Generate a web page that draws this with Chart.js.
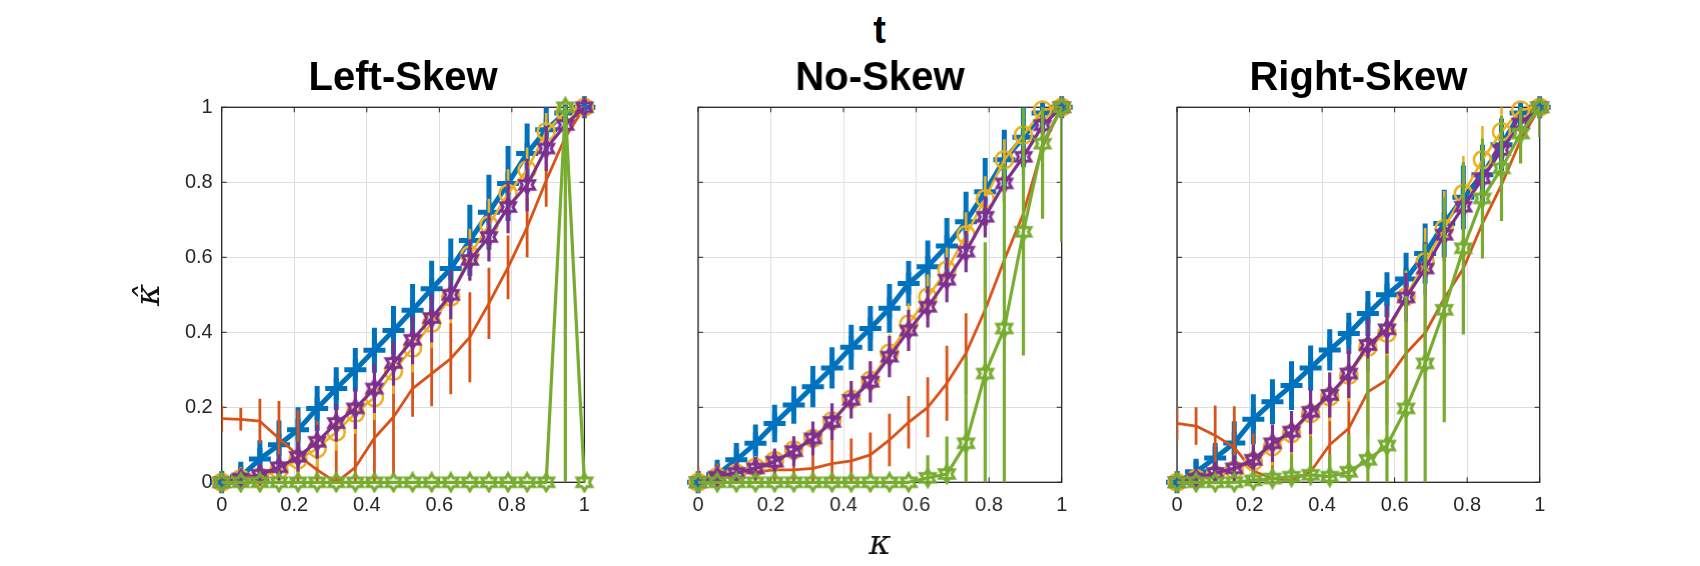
<!DOCTYPE html>
<html>
<head>
<meta charset="utf-8">
<script src="https://cdn.jsdelivr.net/npm/chart.js@4.4.0/dist/chart.umd.min.js"></script>
<style>
  html, body { margin: 0; padding: 0; background: #fff; }
  body { width: 1700px; height: 566px; position: relative; overflow: hidden; }
  .panel { position: absolute; top: 0; height: 566px; }
  #suptitle {
    position: absolute; left: 779.7px; top: 10.8px; width: 200px; text-align: center;
    font: bold 38px/38px "Liberation Sans", Arial, sans-serif; color: #000;
  }
</style>
</head>
<body>
<div id="suptitle">t</div>
<div class="panel" style="left:100px;width:504.4px"><canvas id="left"></canvas></div>
<div class="panel" style="left:658.3px;width:422.7px"><canvas id="mid"></canvas></div>
<div class="panel" style="left:1136.8px;width:422.7px"><canvas id="right"></canvas></div>
<script>
// x positions (kappa), shared by every panel
const kappa = [0, 0.0526, 0.1053, 0.1579, 0.2105, 0.2632, 0.3158, 0.3684, 0.4211, 0.4737,
               0.5263, 0.5789, 0.6316, 0.6842, 0.7368, 0.7895, 0.8421, 0.8947, 0.9474, 1];

const tickValues = [0, 0.2, 0.4, 0.6, 0.8, 1];
const tickLabels = ['0', '0.2', '0.4', '0.6', '0.8', '1'];
const panelTitles = ['Left-Skew', 'No-Skew', 'Right-Skew'];

// Left-Skew
const leftBlue = [0, 0.015, 0.062, 0.1, 0.14, 0.197, 0.25, 0.3, 0.352, 0.405, 0.459, 0.516, 0.57, 0.645, 0.72, 0.797, 0.877, 0.94, 0.985, 1];
const leftBlueErr = [0.03, 0.04, 0.05, 0.065, 0.06, 0.06, 0.057, 0.058, 0.06, 0.065, 0.07, 0.075, 0.08, 0.095, 0.1, 0.1, 0.08, 0.06, 0.03, 0.02];
const leftRed = [0.17, 0.168, 0.163, 0.117, 0.072, 0.033, 0, 0.04, 0.118, 0.174, 0.25, 0.29, 0.33, 0.387, 0.477, 0.573, 0.68, 0.805, 0.92, 1];
const leftRedErr = [0.035, 0.03, 0.06, 0.1, 0.12, 0.13, 0.1, 0.12, 0.14, 0.16, 0.075, 0.087, 0.095, 0.12, 0.095, 0.085, 0.08, 0.07, 0.05, 0.02];
const leftYellow = [0, 0.01, 0.014, 0.033, 0.06, 0.09, 0.134, 0.184, 0.226, 0.296, 0.358, 0.424, 0.494, 0.606, 0.686, 0.77, 0.833, 0.935, 0.988, 1];
const leftYellowErr = [0.02, 0.03, 0.035, 0.04, 0.045, 0.05, 0.05, 0.055, 0.06, 0.06, 0.065, 0.065, 0.07, 0.07, 0.07, 0.065, 0.06, 0.05, 0.03, 0.01];
const leftPurple = [0, 0.01, 0.02, 0.04, 0.068, 0.108, 0.158, 0.197, 0.25, 0.318, 0.38, 0.438, 0.5, 0.593, 0.654, 0.734, 0.793, 0.89, 0.953, 1];
const leftPurpleErr = [0.01, 0.02, 0.03, 0.035, 0.04, 0.045, 0.05, 0.055, 0.065, 0.06, 0.065, 0.065, 0.065, 0.055, 0.065, 0.07, 0.07, 0.06, 0.04, 0.01];
const leftGreen = [0, 0, 0, 0, 0, 0, 0, 0, 0, 0, 0, 0, 0, 0, 0, 0, 0, 0, 1, 0];
const leftGreenErr = [0, 0, 0, 0, 0, 0, 0, 0, 0, 0, 0, 0, 0, 0, 0, 0, 0, 0, 1, 0];

// No-Skew
const midBlue = [0, 0.02, 0.06, 0.104, 0.157, 0.206, 0.255, 0.305, 0.36, 0.41, 0.464, 0.53, 0.575, 0.63, 0.695, 0.775, 0.86, 0.92, 0.985, 1];
const midBlueErr = [0.03, 0.04, 0.045, 0.05, 0.05, 0.05, 0.055, 0.055, 0.06, 0.06, 0.065, 0.06, 0.07, 0.075, 0.08, 0.09, 0.08, 0.08, 0.04, 0.02];
const midRed = [0, 0.02, 0.025, 0.028, 0.033, 0.033, 0.037, 0.05, 0.057, 0.073, 0.113, 0.16, 0.2, 0.264, 0.344, 0.46, 0.593, 0.717, 0.895, 1];
const midRedErr = [0.04, 0.03, 0.03, 0.035, 0.04, 0.045, 0.05, 0.06, 0.06, 0.06, 0.07, 0.07, 0.08, 0.1, 0.107, 0.1, 0.1, 0.08, 0.06, 0.02];
const midYellow = [0, 0.015, 0.025, 0.04, 0.058, 0.086, 0.117, 0.164, 0.222, 0.272, 0.345, 0.422, 0.494, 0.566, 0.66, 0.756, 0.86, 0.926, 0.993, 1];
const midYellowErr = [0.02, 0.02, 0.025, 0.03, 0.03, 0.035, 0.04, 0.04, 0.045, 0.05, 0.05, 0.055, 0.06, 0.06, 0.06, 0.06, 0.055, 0.05, 0.03, 0.01];
const midPurple = [0, 0.015, 0.025, 0.037, 0.055, 0.083, 0.117, 0.161, 0.22, 0.268, 0.335, 0.405, 0.468, 0.54, 0.615, 0.708, 0.797, 0.868, 0.952, 1];
const midPurpleErr = [0.015, 0.02, 0.025, 0.03, 0.035, 0.04, 0.045, 0.05, 0.05, 0.055, 0.055, 0.055, 0.055, 0.06, 0.055, 0.055, 0.05, 0.05, 0.04, 0.01];
const midGreen = [0, 0, 0, 0, 0, 0, 0, 0, 0, 0, 0, 0, 0.012, 0.022, 0.104, 0.29, 0.41, 0.668, 0.903, 1];
const midGreenErr = [0, 0, 0, 0, 0, 0, 0, 0, 0, 0, 0, 0, 0.06, 0.1, 0.23, 0.35, 0.44, 0.33, 0.2, 0.36];

// Right-Skew
const rightBlue = [0, 0.028, 0.065, 0.105, 0.168, 0.215, 0.258, 0.305, 0.353, 0.397, 0.45, 0.5, 0.542, 0.61, 0.69, 0.76, 0.82, 0.9, 0.985, 1];
const rightBlueErr = [0.03, 0.035, 0.04, 0.058, 0.067, 0.06, 0.065, 0.06, 0.055, 0.055, 0.06, 0.06, 0.07, 0.08, 0.09, 0.085, 0.08, 0.07, 0.03, 0.02];
const rightRed = [0.157, 0.15, 0.125, 0.093, 0.03, 0.01, 0.005, 0.028, 0.1, 0.144, 0.241, 0.273, 0.344, 0.398, 0.49, 0.57, 0.69, 0.793, 0.913, 1];
const rightRedErr = [0.045, 0.05, 0.08, 0.11, 0.1, 0.1, 0.1, 0.11, 0.12, 0.16, 0.12, 0.12, 0.12, 0.12, 0.12, 0.1, 0.08, 0.08, 0.06, 0.02];
const rightYellow = [0, 0.01, 0.02, 0.033, 0.055, 0.095, 0.13, 0.183, 0.228, 0.285, 0.36, 0.397, 0.495, 0.588, 0.677, 0.77, 0.86, 0.935, 0.993, 1];
const rightYellowErr = [0.01, 0.02, 0.03, 0.035, 0.045, 0.05, 0.055, 0.06, 0.065, 0.07, 0.07, 0.07, 0.07, 0.09, 0.1, 0.1, 0.09, 0.065, 0.03, 0.01];
const rightPurple = [0, 0.01, 0.025, 0.037, 0.06, 0.104, 0.135, 0.188, 0.233, 0.29, 0.366, 0.408, 0.493, 0.57, 0.66, 0.735, 0.81, 0.886, 0.957, 1];
const rightPurpleErr = [0.01, 0.02, 0.03, 0.035, 0.04, 0.05, 0.055, 0.06, 0.06, 0.065, 0.07, 0.065, 0.065, 0.07, 0.07, 0.065, 0.06, 0.055, 0.04, 0.01];
const rightGreen = [0, 0, 0, 0, 0.005, 0.01, 0.015, 0.02, 0.015, 0.028, 0.06, 0.098, 0.197, 0.317, 0.46, 0.624, 0.757, 0.837, 0.93, 1];
const rightGreenErr = [0, 0, 0, 0, 0.01, 0.03, 0.06, 0.1, 0.06, 0.1, 0.27, 0.24, 0.3, 0.32, 0.3, 0.23, 0.16, 0.14, 0.08, 0.08];

const BLUE = '#0072BD', RED = '#D95319', YELLOW = '#EDB120', PURPLE = '#7E2F8E', GREEN = '#77AC30';
const AXIS = '#262626', GRID = '#dedede';

// six-pointed star outline, used as a point style
function hexagram(color) {
  const r = 8.5, lw = 3, size = Math.ceil(2 * r + lw + 2);
  const c = document.createElement('canvas');
  c.width = c.height = size;
  const g = c.getContext('2d');
  g.strokeStyle = color;
  g.lineWidth = lw;
  g.beginPath();
  for (let i = 0; i < 12; i++) {
    const a = -Math.PI / 2 + i * Math.PI / 6;
    const rr = i % 2 ? r * 0.577 : r;
    const px = size / 2 + rr * Math.cos(a), py = size / 2 + rr * Math.sin(a);
    if (i) g.lineTo(px, py); else g.moveTo(px, py);
  }
  g.closePath();
  g.stroke();
  return c;
}
const purpleStar = hexagram(PURPLE);
const greenStar = hexagram(GREEN);

function series(values, errors, color, width, order, point) {
  return Object.assign({
    data: kappa.map((k, i) => ({ x: k, y: values[i] })),
    errors: errors,
    errorWidth: width,
    showLine: true,
    borderColor: color,
    borderWidth: width,
    borderJoinStyle: 'round',
    tension: 0,
    order: order,
    clip: false,
    pointRadius: 0,
    pointBorderColor: color,
    pointBackgroundColor: 'rgba(0,0,0,0)'
  }, point);
}

// vertical error bars, drawn just before their own line so layering matches
const errorBars = {
  id: 'errorBars',
  beforeDatasetDraw(chart, args) {
    const ds = chart.data.datasets[args.index];
    if (!ds.errors) return;
    const { ctx, chartArea: a, scales: { x, y } } = chart;
    ctx.save();
    ctx.beginPath();
    ctx.rect(a.left, a.top, a.right - a.left, a.bottom - a.top);
    ctx.clip();
    ctx.strokeStyle = ds.borderColor;
    ctx.lineWidth = ds.errorWidth;
    ctx.beginPath();
    ds.data.forEach((p, i) => {
      const e = ds.errors[i];
      if (!e) return;
      const px = x.getPixelForValue(p.x);
      ctx.moveTo(px, y.getPixelForValue(p.y - e));
      ctx.lineTo(px, y.getPixelForValue(p.y + e));
    });
    ctx.stroke();
    ctx.restore();
  }
};

// box with inward ticks on all four sides
const axesBox = {
  id: 'axesBox',
  beforeDatasetsDraw(chart) {
    const { ctx, chartArea: a, scales: { x, y } } = chart;
    ctx.save();
    ctx.strokeStyle = AXIS;
    ctx.lineWidth = 1;
    ctx.beginPath();
    tickValues.forEach(v => {
      const px = x.getPixelForValue(v), py = y.getPixelForValue(v);
      ctx.moveTo(px, a.bottom); ctx.lineTo(px, a.bottom - 5);
      ctx.moveTo(px, a.top); ctx.lineTo(px, a.top + 5);
      ctx.moveTo(a.left, py); ctx.lineTo(a.left + 5, py);
      ctx.moveTo(a.right, py); ctx.lineTo(a.right - 5, py);
    });
    ctx.stroke();
    ctx.lineWidth = 1.3;
    ctx.strokeRect(a.left, a.top, a.right - a.left, a.bottom - a.top);
    ctx.restore();
  }
};

const tickFont = { family: 'Liberation Sans', size: 20 };
const mathFont = { family: 'DejaVu Serif', style: 'italic', size: 34, lineHeight: 1.2 };

function makePanel(id, title, sets, opts) {
  new Chart(document.getElementById(id), {
    type: 'scatter',
    data: {
      datasets: [
        series(sets[0], sets[1], BLUE, 5, 5, { pointStyle: 'cross', pointRadius: 11, pointBorderWidth: 5 }),
        series(sets[2], sets[3], RED, 2.8, 4, {}),
        series(sets[4], sets[5], YELLOW, 2.6, 3, { pointStyle: 'circle', pointRadius: 8.5, pointBorderWidth: 2.6 }),
        series(sets[6], sets[7], PURPLE, 3.2, 2, { pointStyle: purpleStar, pointRadius: 8 }),
        series(sets[8], sets[9], GREEN, 3.2, 1, { pointStyle: greenStar, pointRadius: 8 })
      ]
    },
    options: {
      animation: false,
      responsive: true,
      maintainAspectRatio: false,
      events: [],
      layout: { padding: { left: 0, right: 20, top: 0, bottom: 0 } },
      plugins: {
        legend: { display: false },
        tooltip: { enabled: false },
        title: {
          display: true, text: title, fullSize: false, color: '#000',
          font: { family: 'Liberation Sans', size: 40, weight: 'bold', lineHeight: 1.2 },
          padding: { top: 55, bottom: 4.3 }
        }
      },
      scales: {
        x: {
          type: 'linear', min: 0, max: 1,
          afterBuildTicks: s => { s.ticks = tickValues.map(v => ({ value: v })); },
          afterFit: s => { s.height = 83.7; },
          grid: { color: GRID, lineWidth: 1, drawTicks: false },
          border: { display: false },
          ticks: { padding: 11, color: AXIS, font: tickFont, maxRotation: 0, autoSkip: false,
                   callback: (v, i) => tickLabels[i] },
          title: { display: opts.xTitle, text: 'κ', color: '#111', font: mathFont, padding: { top: 0, bottom: 0 } }
        },
        y: {
          type: 'linear', min: 0, max: 1,
          afterBuildTicks: s => { s.ticks = tickValues.map(v => ({ value: v })); },
          afterFit: s => { s.width = opts.yWidth; },
          grid: { color: GRID, lineWidth: 1, drawTicks: false },
          border: { display: false },
          ticks: { display: opts.yTicks, padding: 9, color: AXIS, font: tickFont, autoSkip: false,
                   callback: (v, i) => tickLabels[i] },
          title: { display: opts.yTitle, text: 'κ̂', color: '#111', font: mathFont, padding: { top: 30, bottom: 0 } }
        }
      }
    },
    plugins: [errorBars, axesBox]
  });
}

makePanel('left', panelTitles[0],
  [leftBlue, leftBlueErr, leftRed, leftRedErr, leftYellow, leftYellowErr, leftPurple, leftPurpleErr, leftGreen, leftGreenErr],
  { yWidth: 121.7, yTicks: true, yTitle: true, xTitle: false });
makePanel('mid', panelTitles[1],
  [midBlue, midBlueErr, midRed, midRedErr, midYellow, midYellowErr, midPurple, midPurpleErr, midGreen, midGreenErr],
  { yWidth: 40, yTicks: false, yTitle: false, xTitle: true });
makePanel('right', panelTitles[2],
  [rightBlue, rightBlueErr, rightRed, rightRedErr, rightYellow, rightYellowErr, rightPurple, rightPurpleErr, rightGreen, rightGreenErr],
  { yWidth: 40, yTicks: false, yTitle: false, xTitle: false });
</script>
</body>
</html>
